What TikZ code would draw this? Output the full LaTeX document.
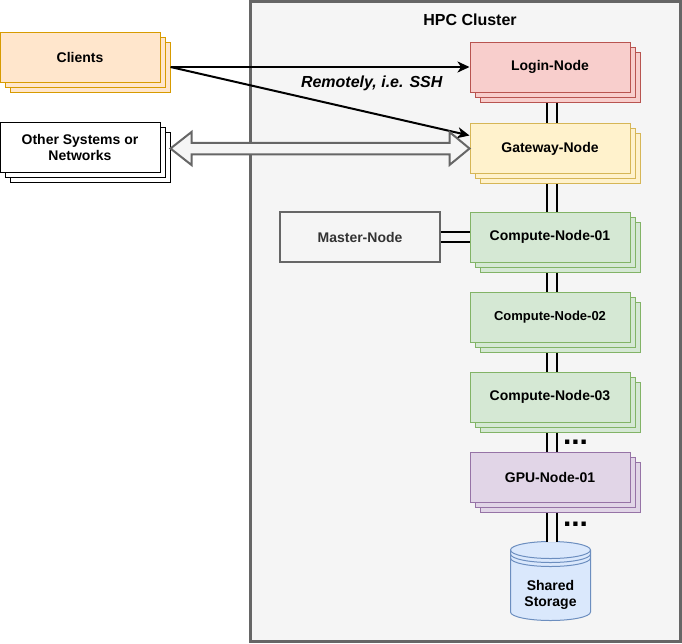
\documentclass[tikz,border=0pt]{standalone}
\usepackage{fontspec}
\setmainfont{Liberation Sans}
\usetikzlibrary{arrows.meta,shadows,calc}

\definecolor{clusterFill}{HTML}{F5F5F5}
\definecolor{clusterLine}{HTML}{666666}
\definecolor{masterText}{HTML}{333333}
\definecolor{clientFill}{HTML}{FFE6CC}
\definecolor{clientLine}{HTML}{D79B00}
\definecolor{loginFill}{HTML}{F8CECC}
\definecolor{loginLine}{HTML}{B85450}
\definecolor{gateFill}{HTML}{FFF2CC}
\definecolor{gateLine}{HTML}{D6B656}
\definecolor{compFill}{HTML}{D5E8D4}
\definecolor{compLine}{HTML}{82B366}
\definecolor{gpuFill}{HTML}{E1D5E7}
\definecolor{gpuLine}{HTML}{9673A6}
\definecolor{storFill}{HTML}{DAE8FC}
\definecolor{storLine}{HTML}{6C8EBF}

\begin{document}
\begin{tikzpicture}[x=1pt, y=-1pt, font=\fontsize{14}{16}\selectfont\bfseries]
	\tikzstyle{stack}     = [copy shadow={shadow xshift=10pt, shadow yshift=-10pt, line width=1pt}, copy shadow={shadow xshift=5pt, shadow yshift=-5pt, line width=1pt}]
	\tikzstyle{box}       = [rectangle, minimum width=160pt, minimum height=50pt, inner sep=0pt, line width=1pt, align=center]
	\tikzstyle{boxClient} = [box, stack, draw=clientLine, fill=clientFill]
	\tikzstyle{boxOther}  = [box, stack, draw=black, fill=white]
	\tikzstyle{boxLogin}  = [box, stack, draw=loginLine, fill=loginFill]
	\tikzstyle{boxGate}   = [box, stack, draw=gateLine, fill=gateFill]
	\tikzstyle{boxComp}   = [box, stack, draw=compLine, fill=compFill]
	\tikzstyle{boxGPU}    = [box, stack, draw=gpuLine, fill=gpuFill]
	\tikzstyle{boxMaster} = [box, line width=2pt, draw=clusterLine, fill=clusterFill, text=masterText]
	\tikzstyle{cluster}   = [rectangle, minimum width=430pt, minimum height=640pt, line width=3pt, draw=clusterLine, fill=clusterFill]
	\tikzstyle{link}      = [line width=2pt, double=clusterFill, double distance=8.5pt]
	\tikzstyle{arr}       = [line width=2pt, -{Stealth[length=12pt, width=11pt, inset=3.5pt]}]
	\tikzstyle{flex}      = [line width=2pt, line join=miter, draw=clusterLine, fill=clusterFill]
	\tikzstyle{dots}      = [inner sep=0pt, anchor=west, xshift=10pt, font=\fontsize{30}{30}\selectfont\bfseries]

	\useasboundingbox (0,0) rectangle (682,643);

	% cluster frame
	\node[cluster] (cluster) at (465.5,321.5) {};
	\node[font=\fontsize{16}{18}\selectfont\bfseries] (title) at (470,20) {HPC Cluster};

	% outside
	\node[boxClient] (clients) at (80,57) {Clients};
	\node[boxOther] (others) at (80,147.5) {Other Systems or\\Networks};

	% inside
	\node[boxLogin] (login) at (550,67) {Login-Node};
	\node[boxGate] (gateway) at (550,148.5) {Gateway-Node};
	\node[boxMaster] (master) at (360,237) {Master-Node};
	\foreach \name/\y/\txt/\fs in {comp01/237/Compute-Node-01/14, comp02/317/Compute-Node-02/13, comp03/397/Compute-Node-03/14}
		\node[boxComp, font=\fontsize{\fs}{16}\selectfont\bfseries] (\name) at (550,\y) {\txt};
	\node[boxGPU] (gpu01) at (550,477) {GPU-Node-01};

	% storage
	\coordinate (stor) at (550.5,581);
	\draw[line width=1pt, draw=storLine, fill=storFill] ($(stor)+(-40,-31)$) -- ($(stor)+(-40,31)$)
		arc[start angle=180, end angle=360, x radius=40pt, y radius=8.5pt] -- ($(stor)+(40,-31)$)
		arc[start angle=0, end angle=180, x radius=40pt, y radius=8.5pt] -- cycle;
	\foreach \dy in {-31,-27,-23}
		\draw[line width=1pt, draw=storLine] ($(stor)+(-40,\dy)$) arc[start angle=180, end angle=360, x radius=40pt, y radius=8.5pt];
	\node[align=center] (storage) at ([yshift=-14pt]stor) {Shared\\Storage};
	\coordinate (stortop) at ($(stor)+(1.5,-39.5)$);

	% links
	\foreach \from/\to in {login/gateway, gateway/comp01, comp01/comp02, comp02/comp03}
		\draw[link] ([xshift=2pt, yshift=-10pt]\from.south) -- ([xshift=2pt]\to.north);
	\draw[link] ([xshift=2pt, yshift=-10pt]comp03.south) -- ([xshift=2pt]gpu01.north) node[dots, pos=0.5] {...};
	\draw[link] ([xshift=2pt, yshift=-10pt]gpu01.south) -- (stortop) node[dots, pos=0.4] {...};
	\draw[link] (master.east) -- (comp01.west);

	% remote access
	\coordinate (cout) at ([xshift=10pt, yshift=-10pt]clients.east);
	\draw[arr] (cout) -- (login.west)
		node[pos=0.673, yshift=-16pt, font=\fontsize{16}{18}\selectfont\bfseries\itshape] (ssh) {Remotely, i.e. SSH};
	\draw[arr] (cout) -- ([yshift=13pt]gateway.west);

	% other systems
	\coordinate (flexR) at (gateway.west);
	\coordinate (flexL) at ([xshift=10pt]others.east |- gateway.west);
	\draw[flex] (flexL) -- ($(flexL)+(21,-16.5)$) -- ($(flexL)+(21,-5.75)$) -- ($(flexR)+(-20,-5.75)$)
		-- ($(flexR)+(-20,-16.5)$) -- (flexR) -- ($(flexR)+(-20,16.5)$) -- ($(flexR)+(-20,5.75)$)
		-- ($(flexL)+(21,5.75)$) -- ($(flexL)+(21,16.5)$) -- cycle;
\end{tikzpicture}
\end{document}
